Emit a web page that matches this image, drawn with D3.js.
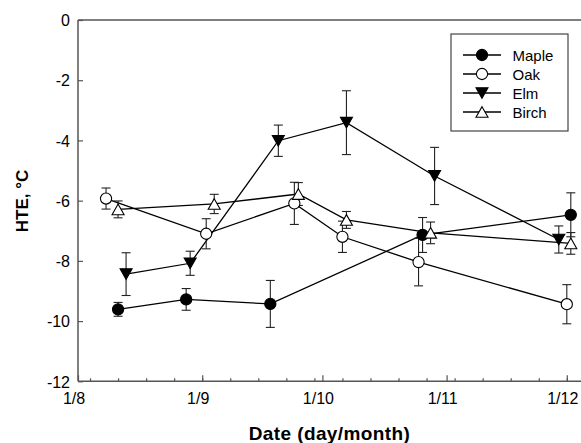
<!DOCTYPE html>
<html>
<head>
<meta charset="utf-8">
<script src="https://cdn.jsdelivr.net/npm/d3@7"></script>
<style>
  html, body { margin: 0; padding: 0; background: #fff; }
  svg { display: block; }
  text { font-family: Arial, "Liberation Sans", sans-serif; fill: #000; }
</style>
</head>
<body>
<div id="chart"></div>
<script>
// ---- Data ----
const seriesNames = ["Maple", "Oak", "Elm", "Birch"];

const mapleDates = ["2008-08-11", "2008-08-28", "2008-09-18", "2008-10-26", "2008-12-02"];
const mapleHTE   = [-9.61, -9.28, -9.43, -7.14, -6.47];
const mapleSE    = [0.23, 0.36, 0.78, 0.58, 0.73];

const oakDates = ["2008-08-08", "2008-09-02", "2008-09-24", "2008-10-06", "2008-10-25", "2008-12-01"];
const oakHTE   = [-5.93, -7.10, -6.09, -7.20, -8.04, -9.44];
const oakSE    = [0.35, 0.50, 0.70, 0.52, 0.79, 0.65];

const elmDates = ["2008-08-13", "2008-08-29", "2008-09-20", "2008-10-07", "2008-10-29", "2008-11-29"];
const elmHTE   = [-8.44, -8.08, -4.01, -3.41, -5.18, -7.29];
const elmSE    = [0.71, 0.40, 0.52, 1.06, 0.95, 0.45];

const birchDates = ["2008-08-11", "2008-09-04", "2008-09-25", "2008-10-07", "2008-10-28", "2008-12-02"];
const birchHTE   = [-6.29, -6.11, -5.78, -6.64, -7.07, -7.42];
const birchSE    = [0.28, 0.32, 0.38, 0.28, 0.36, 0.36];

const yTickValues = [0, -2, -4, -6, -8, -10, -12];
const xTickLabels = ["1/8", "1/9", "1/10", "1/11", "1/12"];
const xDomain = ["2008-08-01", "2008-12-01"];
const yDomain = [-12, 0];

// ---- Layout ----
const W = 581, H = 443;
const mLeft = 78, mRight = 566.8, mTop = 20, mBottom = 381.3;

const parse = d3.utcParse("%Y-%m-%d");
const x = d3.scaleUtc().domain(xDomain.map(parse)).range([mLeft, mRight]);
const y = d3.scaleLinear().domain(yDomain).range([mBottom, mTop]);

const svg = d3.select("#chart").append("svg")
  .attr("width", W).attr("height", H);

const axisColor = "#555";

// Frame top line
svg.append("line").attr("x1", mLeft).attr("x2", W + 2).attr("y1", mTop).attr("y2", mTop)
  .attr("stroke", axisColor).attr("stroke-width", 1.5);

// Y axis
const yAxis = d3.axisRight(y).tickValues(yTickValues).tickSize(5).tickFormat("");
const gy = svg.append("g").attr("transform", `translate(${mLeft},0)`).call(yAxis);
gy.select(".domain").remove();
gy.selectAll(".tick line").attr("stroke", axisColor).attr("stroke-width", 1.2);
svg.append("line").attr("x1", mLeft).attr("x2", mLeft).attr("y1", mTop).attr("y2", mBottom)
  .attr("stroke", axisColor).attr("stroke-width", 1.5);
svg.append("g").selectAll("text").data(yTickValues).join("text")
  .attr("x", 70).attr("y", d => y(d) + 2)
  .attr("text-anchor", "end").attr("dominant-baseline", "middle")
  .attr("font-size", 16)
  .text(d => String(d));

// X axis: weekly minor ticks, monthly major ticks (inward)
const x0 = parse(xDomain[0]), x1 = d3.utcDay.offset(parse(xDomain[1]), 1);
const minorTicks = d3.utcMonday.range(x0, x1);
const majorTicks = d3.utcMonth.range(x0, x1);

const gxMinor = svg.append("g").attr("transform", `translate(0,${mBottom})`)
  .call(d3.axisTop(x).tickValues(minorTicks).tickSize(3).tickFormat(""));
gxMinor.select(".domain").remove();
gxMinor.selectAll(".tick line").attr("stroke", axisColor).attr("stroke-width", 1.2);

const gxMajor = svg.append("g").attr("transform", `translate(0,${mBottom})`)
  .call(d3.axisTop(x).tickValues(majorTicks).tickSize(6).tickFormat(""));
gxMajor.select(".domain").remove();
gxMajor.selectAll(".tick line").attr("stroke", axisColor).attr("stroke-width", 1.2);

svg.append("line").attr("x1", mLeft).attr("x2", W + 2).attr("y1", mBottom).attr("y2", mBottom)
  .attr("stroke", axisColor).attr("stroke-width", 1.5);

svg.append("g").selectAll("text").data(majorTicks).join("text")
  .attr("x", d => x(d) - 4).attr("y", 404)
  .attr("text-anchor", "middle").attr("font-size", 16)
  .text((d, i) => xTickLabels[i]);

// Axis titles
svg.append("text").attr("x", 329.5).attr("y", 439.5)
  .attr("text-anchor", "middle").attr("font-size", 19).attr("font-weight", "bold")
  .attr("letter-spacing", 0.4)
  .text("Date (day/month)");
svg.append("text")
  .attr("transform", `translate(28,201) rotate(-90)`)
  .attr("text-anchor", "middle").attr("font-size", 17).attr("font-weight", "bold")
  .text("HTE, °C");

// ---- Series ----
function makeSeries(dates, vals, se) {
  return dates.map((d, i) => ({ date: parse(d), v: vals[i], e: se[i] }));
}
const series = [
  { name: seriesNames[0], data: makeSeries(mapleDates, mapleHTE, mapleSE), shape: "circle", fill: "#000" },
  { name: seriesNames[1], data: makeSeries(oakDates, oakHTE, oakSE),       shape: "circle", fill: "#fff" },
  { name: seriesNames[2], data: makeSeries(elmDates, elmHTE, elmSE),       shape: "down",   fill: "#000" },
  { name: seriesNames[3], data: makeSeries(birchDates, birchHTE, birchSE), shape: "up",     fill: "#fff" }
];

function markerPath(shape) {
  if (shape === "up") return "M0,-5.3L6,5.3L-6,5.3Z";
  if (shape === "down") return "M0,5.3L6,-5.3L-6,-5.3Z";
  return null;
}
function drawMarker(g, shape, fill, cx, cy) {
  if (shape === "circle") {
    g.append("circle").attr("cx", cx).attr("cy", cy).attr("r", 5.6)
      .attr("fill", fill).attr("stroke", "#000").attr("stroke-width", 1.1);
  } else {
    g.append("path").attr("d", markerPath(shape))
      .attr("transform", `translate(${cx},${cy})`)
      .attr("fill", fill).attr("stroke", "#000").attr("stroke-width", 1.1);
  }
}

const line = d3.line().x(d => x(d.date)).y(d => y(d.v));

// lines
series.forEach(s => {
  svg.append("path").datum(s.data).attr("d", line)
    .attr("fill", "none").attr("stroke", "#000").attr("stroke-width", 1.3);
});
// error bars
series.forEach(s => {
  const g = svg.append("g").attr("stroke", "#222").attr("stroke-width", 1.1);
  s.data.forEach(d => {
    const cx = x(d.date), y1 = y(d.v + d.e), y2 = y(d.v - d.e);
    g.append("line").attr("x1", cx).attr("x2", cx).attr("y1", y1).attr("y2", y2);
    g.append("line").attr("x1", cx - 4.5).attr("x2", cx + 4.5).attr("y1", y1).attr("y2", y1);
    g.append("line").attr("x1", cx - 4.5).attr("x2", cx + 4.5).attr("y1", y2).attr("y2", y2);
  });
});
// markers
series.forEach(s => {
  const g = svg.append("g");
  s.data.forEach(d => drawMarker(g, s.shape, s.fill, x(d.date), y(d.v)));
});

// ---- Legend ----
const lg = svg.append("g");
lg.append("rect").attr("x", 451).attr("y", 34).attr("width", 117).attr("height", 97)
  .attr("fill", "#fff").attr("stroke", "#444").attr("stroke-width", 1.2);
series.forEach((s, i) => {
  const ly = 55 + i * 19;
  lg.append("line").attr("x1", 463).attr("x2", 501).attr("y1", ly).attr("y2", ly)
    .attr("stroke", "#000").attr("stroke-width", 1.3);
  drawMarker(lg, s.shape, s.fill, 482, ly);
  lg.append("text").attr("x", 512.5).attr("y", ly + 5.5).attr("font-size", 15).text(s.name);
});
</script>
</body>
</html>
